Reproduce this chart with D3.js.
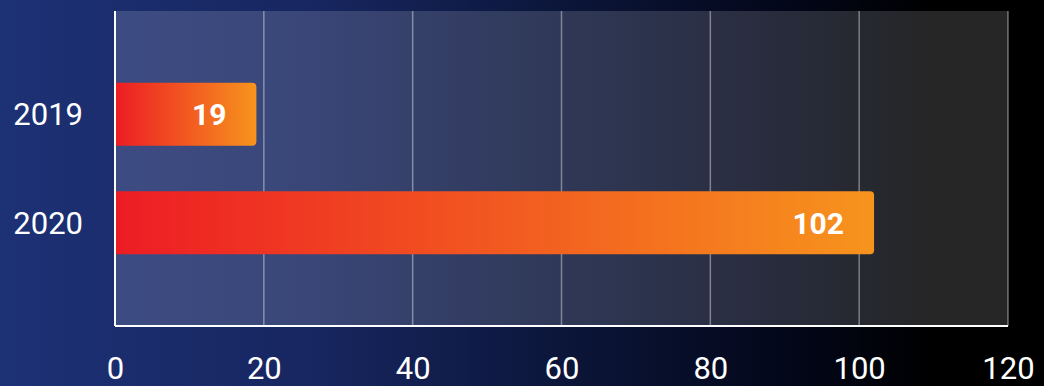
<!DOCTYPE html>
<html>
<head>
<meta charset="utf-8">
<script src="https://cdn.jsdelivr.net/npm/d3@7"></script>
<style>
  html, body { margin: 0; padding: 0; background: #000; }
  svg { display: block; font-family: Roboto, "Noto Sans", sans-serif; }
</style>
</head>
<body>
<svg id="chart" width="1044" height="386"></svg>
<script>
// data
const years = ['2019', '2020'];
const counts = [19, 102];
const xTicks = [0, 20, 40, 60, 80, 100, 120];

const W = 1044, H = 386;
const m = { top: 11, right: 36, bottom: 60, left: 115 };
const iw = W - m.left - m.right, ih = H - m.top - m.bottom;

const svg = d3.select('#chart');
const defs = svg.append('defs');

// page background: blue on the left fading to black
const bg = defs.append('linearGradient').attr('id', 'bg').attr('x1', 0).attr('x2', 1).attr('y1', 0).attr('y2', 0);
[[0, '#1d3175'], [0.3, '#172660'], [0.55, '#0b1538'], [0.75, '#03071a'], [0.9, '#000']]
  .forEach(([o, c]) => bg.append('stop').attr('offset', o).attr('stop-color', c));

// bar fill red -> orange
const bar = defs.append('linearGradient').attr('id', 'barfill').attr('x1', 0).attr('x2', 1).attr('y1', 0).attr('y2', 0);
bar.append('stop').attr('offset', 0).attr('stop-color', '#ed1c24');
bar.append('stop').attr('offset', 1).attr('stop-color', '#f7941d');

svg.append('rect').attr('width', W).attr('height', H).attr('fill', 'url(#bg)');

const g = svg.append('g').attr('transform', `translate(${m.left},${m.top})`);

const x = d3.scaleLinear([0, 120], [0, iw]);
const y = d3.scaleBand(years, [0, ih]).paddingInner(0.42).paddingOuter(0.66);

// plot area tint
g.append('rect').attr('width', iw).attr('height', ih).attr('fill', '#fff').attr('fill-opacity', 0.15);

// grid
g.append('g').selectAll('line').data(xTicks.slice(1)).join('line')
  .attr('x1', d => x(d)).attr('x2', d => x(d)).attr('y1', 0).attr('y2', ih)
  .attr('stroke', '#fff').attr('stroke-opacity', 0.4).attr('stroke-width', 1.5);

// bars, rounded on the right end only
const rows = years.map((yr, i) => ({ yr, v: counts[i] }));
const r = 4;
g.append('g').selectAll('path').data(rows).join('path')
  .attr('fill', 'url(#barfill)')
  .attr('d', d => {
    const x0 = x(0), x1 = x(d.v), y0 = y(d.yr), y1 = y0 + y.bandwidth();
    return `M${x0},${y0}H${x1 - r}Q${x1},${y0} ${x1},${y0 + r}V${y1 - r}Q${x1},${y1} ${x1 - r},${y1}H${x0}Z`;
  });

// value labels
g.append('g').selectAll('text').data(rows).join('text')
  .attr('x', d => x(d.v) - 30).attr('y', d => y(d.yr) + y.bandwidth() / 2).attr('dy', '0.36em')
  .attr('text-anchor', 'end').attr('fill', '#fff').style('font-size', '30px').style('font-weight', 700)
  .text(d => d.v);

// axis lines
g.append('line').attr('x1', 0).attr('x2', 0).attr('y1', 0).attr('y2', ih).attr('stroke', '#fff').attr('stroke-width', 2);
g.append('line').attr('x1', 0).attr('x2', iw).attr('y1', ih).attr('y2', ih).attr('stroke', '#fff').attr('stroke-width', 2);

// x tick labels
const xa = g.append('g').attr('transform', `translate(0,${ih})`)
  .call(d3.axisBottom(x).tickValues(xTicks).tickSize(0).tickPadding(31));
xa.select('.domain').remove();
xa.selectAll('text').attr('fill', '#fff').style('font-size', '31px').style('font-weight', 400)
  .style('font-family', 'Roboto, sans-serif').attr('dy', '0.71em');

// y labels
const ya = g.append('g').call(d3.axisLeft(y).tickSize(0).tickPadding(32));
ya.select('.domain').remove();
ya.selectAll('text').attr('fill', '#fff').style('font-size', '31px').style('font-weight', 400)
  .style('font-family', 'Roboto, sans-serif').attr('dy', '0.36em');
</script>
</body>
</html>
